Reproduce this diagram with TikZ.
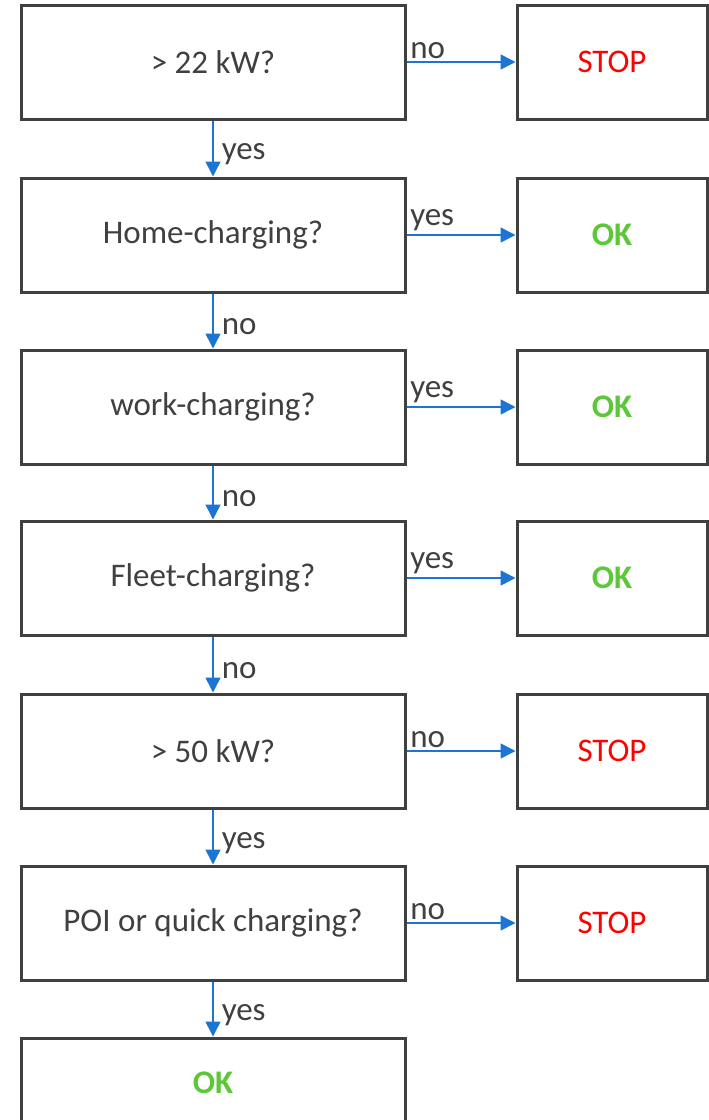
\documentclass[tikz,border=0pt]{standalone}
\usepackage{fontspec}
\setmainfont{Carlito}
\usetikzlibrary{arrows.meta}
\definecolor{boxgray}{HTML}{404040}
\definecolor{arrowblue}{HTML}{1C75D3}
\definecolor{okgreen}{HTML}{5DC73A}
\definecolor{stopred}{HTML}{FF0000}
\begin{document}
\begin{tikzpicture}[x=1pt,y=-1pt,
        question/.style={draw=boxgray,line width=3pt,minimum width=384pt,minimum height=114pt,text=boxgray,font=\fontsize{33}{40}\selectfont},
        answer/.style={draw=boxgray,line width=3pt,minimum width=190pt,minimum height=114pt,font=\fontsize{33}{40}\selectfont},
        stop/.style={answer,text=stopred},
        ok/.style={answer,text=okgreen,font=\fontsize{33}{40}\selectfont\bfseries},
        flow/.style={-{Triangle[length=15pt,width=15pt]},draw=arrowblue,line width=1.5pt},
        lbl/.style={text=boxgray,font=\fontsize{33}{40}\selectfont,inner sep=3pt},
        down/.style={lbl,right,xshift=5pt,yshift=-6pt}]
            \clip (0,0) rectangle (709,1120);
            % questions
            \node[question] (kw22) at (213,62) {> 22 kW?};
            \node[question] (home) at (213,235) {Home-charging?};
            \node[question] (work) at (213,407) {work-charging?};
            \node[question] (fleet) at (213,578) {Fleet-charging?};
            \node[question] (kw50) at (213,751) {> 50 kW?};
            \node[question] (poi) at (213,923) {POI or quick charging?};
            \node[question,ok,minimum width=384pt,minimum height=90pt] (final) at (213,1083) {OK};
            % answers
            \node[stop] (stop1) at (612,62) {STOP};
            \node[ok] (ok1) at (612,235) {OK};
            \node[ok] (ok2) at (612,407) {OK};
            \node[ok] (ok3) at (612,578) {OK};
            \node[stop] (stop2) at (612,751) {STOP};
            \node[stop] (stop3) at (612,923) {STOP};
            % arrows
            \draw[flow] (kw22) -- node[lbl,above right,pos=0] {no} (stop1);
            \draw[flow] (home) -- node[lbl,above right,pos=0] {yes} (ok1);
            \draw[flow] (work) -- node[lbl,above right,pos=0] {yes} (ok2);
            \draw[flow] (fleet) -- node[lbl,above right,pos=0] {yes} (ok3);
            \draw[flow] (kw50) -- node[lbl,above right,pos=0] {no} (stop2);
            \draw[flow] (poi) -- node[lbl,above right,pos=0] {no} (stop3);
            \draw[flow] (kw22) -- node[down] {yes} (home);
            \draw[flow] (home) -- node[down] {no} (work);
            \draw[flow] (work) -- node[down] {no} (fleet);
            \draw[flow] (fleet) -- node[down] {no} (kw50);
            \draw[flow] (kw50) -- node[down] {yes} (poi);
            \draw[flow] (poi) -- node[down] {yes} (final);
\end{tikzpicture}
\end{document}
